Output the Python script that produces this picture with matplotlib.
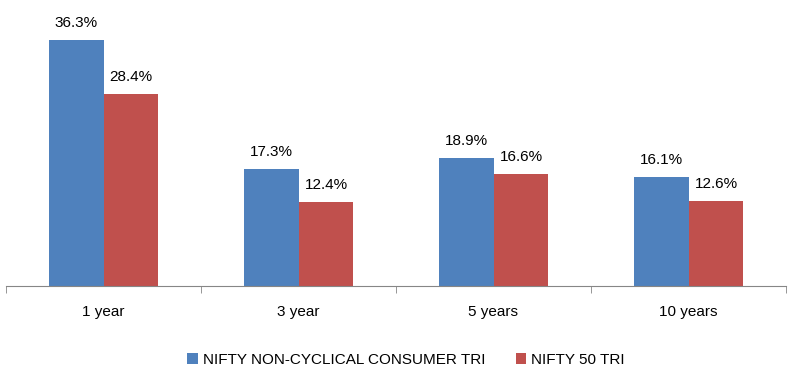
import matplotlib.pyplot as plt
import numpy as np

categories = ["1 year", "3 year", "5 years", "10 years"]
series_names = ["NIFTY NON-CYCLICAL CONSUMER TRI", "NIFTY 50 TRI"]
non_cyclical = [36.3, 17.3, 18.9, 16.1]
nifty50 = [28.4, 12.4, 16.6, 12.6]
colors = ["#4F81BD", "#C0504D"]

plt.rcParams['font.family'] = ['Liberation Sans', 'DejaVu Sans']

fig = plt.figure(figsize=(8.12, 3.8), dpi=100)
ax = fig.add_axes([6 / 812, 94 / 380, 780 / 812, 271 / 380])

x = np.arange(len(categories))
w = 0.282
bars = []
for i, (vals, name) in enumerate(zip([non_cyclical, nifty50], series_names)):
    b = ax.bar(x + (i - 0.5) * w, vals, width=w, color=colors[i], label=name)
    bars.append(b)
    for rect, v in zip(b, vals):
        ax.annotate(f'{v}%', (rect.get_x() + rect.get_width() / 2, v),
                    xytext=(0, 7), textcoords='offset points',
                    ha='center', va='bottom', fontsize=11, color='#000000')

ax.set_xlim(-0.5, len(categories) - 0.5)
ax.set_ylim(0, 40)
ax.set_yticks([])
for s in ['top', 'right', 'left']:
    ax.spines[s].set_visible(False)
ax.spines['bottom'].set_color('#868686')

ax.set_xticks(x)
ax.set_xticklabels(categories, fontsize=11)
ax.tick_params(axis='x', length=0, pad=14)
ax.set_xticks(np.arange(len(categories) + 1) - 0.5, minor=True)
ax.tick_params(axis='x', which='minor', length=5, color='#868686')

fig.legend(handles=bars, labels=series_names, loc='center', bbox_to_anchor=(0.5, 20 / 380),
           ncol=2, frameon=False, fontsize=11, handlelength=0.7, handleheight=0.7,
           handletextpad=0.3, columnspacing=2.0)

fig.savefig('out.png', dpi=100)
